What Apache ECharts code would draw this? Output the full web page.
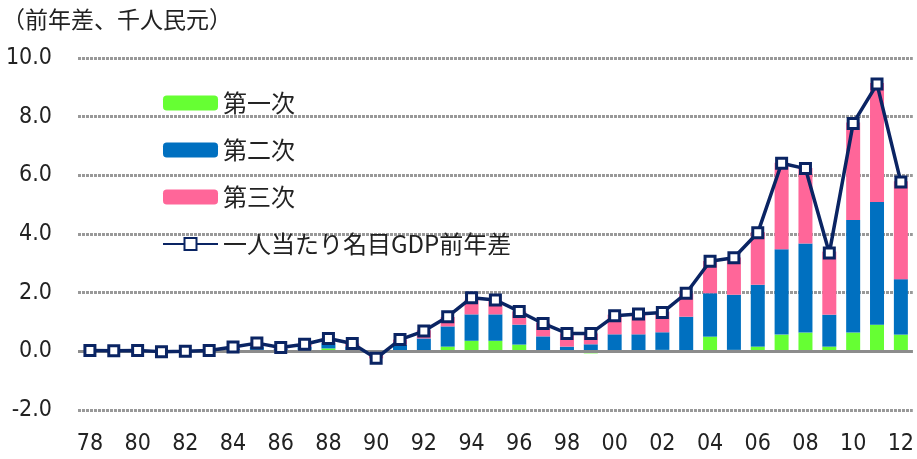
<!DOCTYPE html>
<html>
<head>
<meta charset="utf-8">
<script src="https://cdn.jsdelivr.net/npm/echarts@6/dist/echarts.min.js"></script>
<style>
  html, body { margin: 0; padding: 0; background: #fff; }
  #chart { width: 917px; height: 459px; }
</style>
</head>
<body>
<div id="chart"></div>
<script>
// years 1978-2012, shown as two digits
const years = ['78','79','80','81','82','83','84','85','86','87','88','89','90','91','92','93','94','95','96','97','98','99','00','01','02','03','04','05','06','07','08','09','10','11','12'];

// contribution by sector (thousand yuan, y/y difference)
const primary = [0.01,0.01,0.01,0.01,0.01,0.01,0.04,0.05,0.03,0.05,0.10,0.03,0.01,0.02,0.03,0.16,0.36,0.36,0.23,0.01,0.01,-0.07,0.02,0.03,0.05,0.03,0.50,0.05,0.16,0.57,0.64,0.16,0.64,0.91,0.57];
const secondary = [0.01,0.00,0.01,-0.02,0.00,0.01,0.06,0.12,0.06,0.11,0.20,0.14,-0.12,0.21,0.41,0.69,0.90,0.90,0.68,0.50,0.15,0.24,0.56,0.55,0.60,1.15,1.48,1.88,2.11,2.91,3.04,1.09,3.84,4.18,1.89];
const tertiary = [0.01,0.01,0.01,0.00,0.00,0.01,0.05,0.11,0.04,0.08,0.14,0.10,-0.12,0.17,0.28,0.32,0.50,0.45,0.45,0.46,0.45,0.37,0.67,0.72,0.70,0.80,1.10,1.27,1.80,2.95,2.57,2.15,3.32,4.06,3.34];
// nominal GDP per capita, y/y difference
const gdpDiff = [0.03,0.02,0.03,-0.01,0.00,0.03,0.15,0.28,0.13,0.24,0.44,0.27,-0.24,0.40,0.69,1.18,1.83,1.75,1.36,0.95,0.61,0.61,1.21,1.27,1.32,1.98,3.07,3.19,4.04,6.41,6.23,3.35,7.77,9.11,5.77];

const cjk = '"Noto Sans CJK JP", "Noto Sans", sans-serif';
const num = '"Liberation Sans Narrow", "DejaVu Sans Condensed", "Noto Sans", sans-serif';

let chart = echarts.init(document.getElementById('chart'));

let option = {
  animation: false,
  backgroundColor: '#fff',
  title: {
    text: '（前年差、千人民元）',
    left: -3,
    top: 3,
    textStyle: { fontFamily: cjk, fontSize: 23, fontWeight: 'normal', color: '#222' }
  },
  legend: {
    orient: 'vertical',
    left: 157,
    top: 86,
    itemWidth: 55,
    itemHeight: 15,
    itemGap: 23,
    textStyle: { fontFamily: cjk, fontSize: 24, color: '#222' },
    data: ['第一次', '第二次', '第三次', '一人当たり名目GDP前年差']
  },
  grid: { left: 78, right: 2, top: 58, bottom: 49, containLabel: false },
  xAxis: {
    type: 'category',
    data: years,
    axisLine: { onZero: false, show: false },
    axisTick: { show: false },
    axisLabel: {
      interval: 1,
      margin: 23,
      fontFamily: num,
      fontSize: 23,
      color: '#222'
    }
  },
  yAxis: {
    type: 'value',
    min: -2,
    max: 10,
    interval: 2,
    axisLine: { show: false },
    axisTick: { show: false },
    axisLabel: {
      margin: 26,
      fontFamily: num,
      fontSize: 23,
      color: '#222',
      formatter: v => v.toFixed(1)
    },
    splitLine: { lineStyle: { type: [3, 1], color: '#999', width: 3 } }
  },
  series: [
    {
      name: '第一次',
      type: 'bar',
      stack: 'total',
      barWidth: 14,
      itemStyle: { color: '#66ff33' },
      data: primary,
      markLine: {
        silent: true,
        symbol: 'none',
        label: { show: false },
        lineStyle: { color: '#8c8c8c', type: 'solid', width: 3 },
        data: [{ yAxis: 0 }]
      }
    },
    {
      name: '第二次',
      type: 'bar',
      stack: 'total',
      itemStyle: { color: '#0070c0' },
      data: secondary
    },
    {
      name: '第三次',
      type: 'bar',
      stack: 'total',
      itemStyle: { color: '#ff6699' },
      data: tertiary
    },
    {
      name: '一人当たり名目GDP前年差',
      type: 'line',
      symbol: 'rect',
      symbolSize: 10,
      itemStyle: { color: '#fff', borderColor: '#0a2463', borderWidth: 3 },
      lineStyle: { color: '#0a2463', width: 3.5 },
      z: 5,
      data: gdpDiff
    }
  ]
};

chart.setOption(option);
</script>
</body>
</html>
